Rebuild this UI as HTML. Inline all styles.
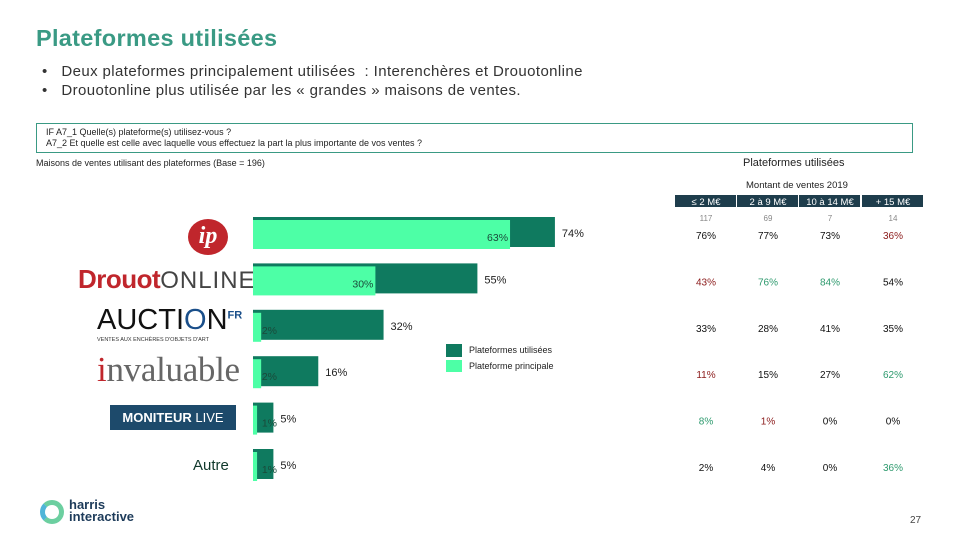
<!DOCTYPE html>
<html><head><meta charset="utf-8">
<style>
body{margin:0;width:960px;height:540px;overflow:hidden;background:#fff;font-family:"Liberation Sans",sans-serif;position:relative}
.a{position:absolute;white-space:nowrap}
</style></head><body>
<div class="a" style="left:36px;top:25px;font-size:23.5px;font-weight:bold;color:#3a9a84;letter-spacing:0.3px">Plateformes utilisées</div>
<div class="a" style="left:42px;top:63px;font-size:15px;color:#333;letter-spacing:0.4px">•&nbsp;&nbsp;&nbsp;Deux plateformes principalement utilisées&nbsp; : Interenchères et Drouotonline</div>
<div class="a" style="left:42px;top:82px;font-size:15px;color:#333;letter-spacing:0.4px">•&nbsp;&nbsp;&nbsp;Drouotonline plus utilisée par les « grandes » maisons de ventes.</div>
<div class="a" style="left:36px;top:123px;width:877px;border:1px solid #3a9a84;font-size:9px;color:#222;line-height:11px;padding:3px 0 0 9px;box-sizing:border-box;height:30px">IF A7_1 Quelle(s) plateforme(s) utilisez-vous ?<br>A7_2 Et quelle est celle avec laquelle vous effectuez la part la plus importante de vos ventes ?</div>
<div class="a" style="left:36px;top:158px;font-size:9px;color:#222">Maisons de ventes utilisant des plateformes (Base = 196)</div>
<div class="a" style="left:743px;top:157px;font-size:11px;color:#222">Plateformes utilisées</div>
<div class="a" style="left:746px;top:180px;font-size:9.5px;color:#222">Montant de ventes 2019</div>

<div class="a" style="left:188px;top:219px;width:40px;height:36px;border-radius:50%;background:#c0262c;color:#fff;font:italic bold 24px 'Liberation Serif',serif;text-align:center;line-height:34px">ip</div>
<div class="a" style="left:78px;top:264px;font-size:26px;font-weight:bold;color:#c0262c;letter-spacing:-0.5px">Drouot<span style="font-weight:normal;color:#444;font-size:24px;letter-spacing:1px">ONLINE</span></div>
<div class="a" style="left:97px;top:304px;font-size:29px;color:#111">AUCTI<span style="color:#1a4f8a">O</span>N<sup style="font-size:11px;color:#1a4f8a;font-weight:bold">FR</sup></div>
<div class="a" style="left:97px;top:337px;font-size:5.5px;color:#333">VENTES AUX ENCHÈRES D'OBJETS D'ART</div>
<div class="a" style="left:97px;top:350px;font:35px 'Liberation Serif',serif;color:#666;letter-spacing:-0.3px"><span style="color:#c0262c">i</span>nvaluable</div>
<div class="a" style="left:110px;top:405px;width:126px;height:25px;background:#1d4a6b;color:#fff;font-size:13px;font-weight:bold;text-align:center;line-height:25px">MONITEUR <span style="font-weight:normal">LIVE</span></div>
<div class="a" style="left:193px;top:457px;font-size:15px;color:#10382b">Autre</div>

<svg id="chart" class="a" style="left:0;top:0" width="960" height="540"></svg>

<div class="a" style="left:40px;top:500px;width:14px;height:14px;border:5px solid #6ccfa0;border-left-color:#4fb5d8;border-radius:50%"></div>
<div class="a" style="left:69px;top:499px;font-size:13px;font-weight:bold;color:#1d3b5a;line-height:12px">harris<br>interactive</div>
<div class="a" style="left:910px;top:515px;font-size:10px;color:#444">27</div>

<script>
const platforms=["Interenchères","Drouotonline","Auction.fr","Invaluable","Moniteur Live","Autre"];
const used=[74,55,32,16,5,5];
const main=[63,30,2,2,1,1];
const usedLabels=["74%","55%","32%","16%","5%","5%"];
const mainLabels=["63%","30%","2%","2%","1%","1%"];
const segments=["≤ 2 M€","2 à 9 M€","10 à 14 M€","+ 15 M€"];
const bases=["117","69","7","14"];
const tableVals=[["76%","77%","73%","36%"],["43%","76%","84%","54%"],["33%","28%","41%","35%"],["11%","15%","27%","62%"],["8%","1%","0%","0%"],["2%","4%","0%","36%"]];
const tableSig=[["","","","r"],["r","g","g",""],["","","",""],["r","","","g"],["g","r","",""],["","","","g"]];

const svg=document.getElementById('chart');
const NS="http://www.w3.org/2000/svg";
const x0=253, pxPer=4.08;
const xs=v=>x0+v*pxPer;
const rowY=i=>217+i*46.4;
function mk(tag,attrs){const e=document.createElementNS(NS,tag);for(const k in attrs)e.setAttribute(k,attrs[k]);svg.appendChild(e);return e;}
function txt(x,y,s,size,fill,anchor){const t=mk('text',{x:x,y:y,'font-size':size,fill:fill,'text-anchor':anchor||'start','font-family':'Liberation Sans, sans-serif'});t.textContent=s;return t;}

platforms.forEach((p,i)=>{
  const y=rowY(i);
  const d=mk('rect',{x:x0,y:y,width:xs(used[i])-x0,height:30,fill:'#0f7a5f'});
  
  
  const l=mk('rect',{x:x0,y:y+3,width:xs(main[i])-x0,height:29,fill:'#4dffa6'});
  
  
  const t1=txt(xs(used[i])+7,y+20,usedLabels[i],11,'#222');
  
  
  const t2=txt(Math.max(xs(main[i])-2,x0+24),y+24,mainLabels[i],10.5,'#1a4a3a','end');
  
  
});

const lg1=mk('rect',{x:446,y:344,width:16,height:13,fill:'#0f7a5f'});


const lg2=mk('rect',{x:446,y:360,width:16,height:12,fill:'#4dffa6'});


const lt1=txt(469,353,'Plateformes utilisées',9,'#222');


const lt2=txt(469,369,'Plateforme principale',9,'#222');



const colX=[706,768,830,893];
segments.forEach((s,j)=>{
  const h=mk('rect',{x:colX[j]-31,y:195,width:61,height:12,fill:'#1e3d4c'});
  
  
  const ht=txt(colX[j],205,s,9.5,'#fff','middle');
  
  
  const bt=txt(colX[j],221,bases[j],8,'#888','middle');
  
  
});
tableVals.forEach((row,i)=>{
  row.forEach((v,j)=>{
    const sig=tableSig[i][j];
    const c=sig==='r'?'#8b1a1a':sig==='g'?'#2e9a6e':'#111';
    const t=txt(colX[j],rowY(i)+22,v,10,c,'middle');
    
    
  });
});
</script>
</body></html>
